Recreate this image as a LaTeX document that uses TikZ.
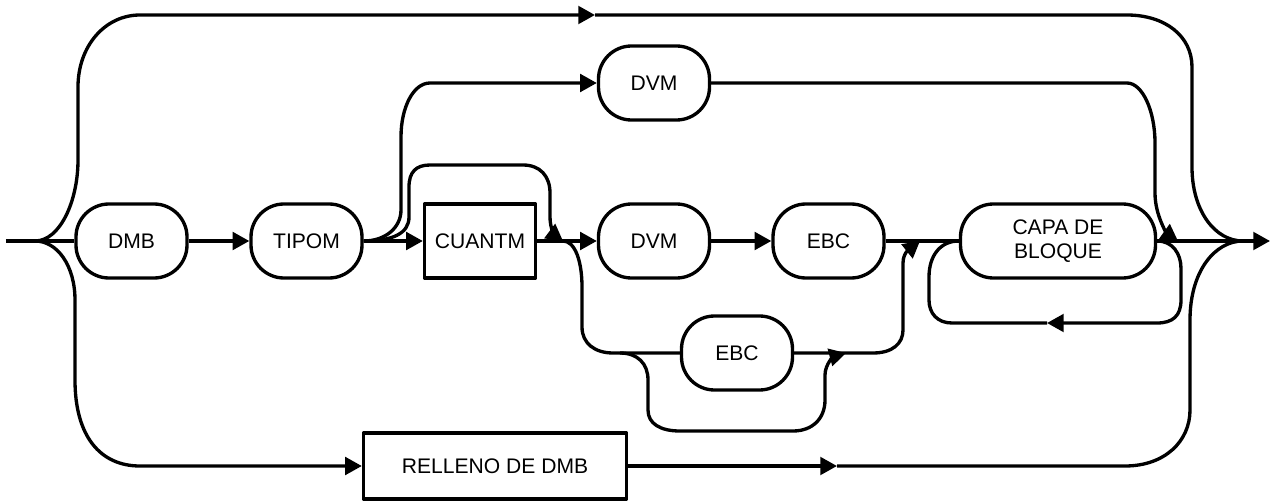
\documentclass[tikz,border=0pt]{standalone}
\usepackage{fontspec}
\setmainfont{Liberation Sans}
\usetikzlibrary{arrows.meta}

\tikzset{
    term/.style={draw, rounded corners=0.66cm, minimum width=2.22cm, minimum height=1.48cm, inner sep=0pt},
    nonterm/.style={draw, rectangle, minimum width=2.22cm, minimum height=1.48cm, inner sep=0pt},
    flow/.style={-{Triangle[length=9.5pt, width=10pt]}}
}

\begin{document}
\begin{tikzpicture}[line width=1.9pt, line join=round, font=\fontsize{12}{14}\selectfont]
            \useasboundingbox (0, 4.82) rectangle (25.6, -5.22);

            \node[term] (dmb) at (2.63, 0) {DMB};
            \node[term] (tipom) at (6.13, 0) {TIPOM};
            \node[nonterm] (cuantm) at (9.6, 0) {CUANTM};
            \node[term] (dvmtop) at (13.08, 3.16) {DVM};
            \node[term] (dvm) at (13.08, 0) {DVM};
            \node[term] (ebc) at (16.57, 0) {EBC};
            \node[term] (ebclow) at (14.74, -2.24) {EBC};
            \node[term, minimum width=3.9cm, align=center] (capa) at (21.16, 0) {CAPA DE\\BLOQUE};
            \node[nonterm, minimum width=5.26cm, minimum height=1.32cm] (relleno) at (9.9, -4.5) {RELLENO DE DMB};

            \coordinate (start) at (0.12, 0);
            \coordinate (fork) at (0.7, 0);
            \coordinate (join) at (24.86, 0);
            \coordinate (finish) at (25.4, 0);
            \coordinate (merge) at (11.26, 0);
            \coordinate (topmid) at (11.9, 4.52);
            \coordinate (botmid) at (16.74, -4.5);
            \coordinate (ebcfork) at (12.4, -2.24);
            \coordinate (ebcjoin) at (16.92, -2.24);
            \coordinate (lowjoin) at (18.4, 0);
            \coordinate (dvmjoin) at (23.56, 0);
            \coordinate (loopmid) at (20.94, -1.64);

            \draw (start) -- (dmb);
            \draw[flow] (dmb) -- (tipom);
            \draw[flow] (tipom) -- (cuantm);
            \draw[flow] (cuantm) -- (dvm);
            \draw[flow] (dvm) -- (ebc);
            \draw (ebc) -- (capa);
            \draw[flow] (capa) -- (finish);

            \draw[flow] (fork) .. controls (1.2, 0) and (1.56, 0.8) .. (1.56, 1.62) -- (1.56, 3.08) .. controls (1.56, 3.9) and (2.1, 4.52) .. (2.8, 4.52) -- (topmid);
            \draw (topmid) -- (22.54, 4.52) .. controls (23.3, 4.52) and (23.84, 4.1) .. (23.84, 3.48) -- (23.84, 1.48) .. controls (23.84, 0.6) and (24.3, 0) .. (join);

            \draw[flow] (fork) .. controls (1.15, 0) and (1.5, -0.5) .. (1.5, -1.18) -- (1.5, -2.78) .. controls (1.5, -3.9) and (2.0, -4.5) .. (2.8, -4.5) -- (relleno);
            \draw[flow] (relleno) -- (botmid);
            \draw (botmid) -- (22.5, -4.5) .. controls (23.3, -4.5) and (23.8, -4.0) .. (23.8, -3.38) -- (23.8, -1.58) .. controls (23.8, -0.6) and (24.3, 0) .. (join);

            \draw[flow] (tipom.east) .. controls (7.71, 0) and (8.02, 0.27) .. (8.02, 0.62) -- (8.02, 2.08) .. controls (8.02, 2.68) and (8.27, 3.16) .. (8.6, 3.16) -- (dvmtop);
            \draw[flow] (tipom.east) .. controls (7.85, 0) and (8.18, 0.15) .. (8.18, 0.48) -- (8.18, 1.08) .. controls (8.18, 1.38) and (8.32, 1.52) .. (8.6, 1.52) -- (10.46, 1.52) .. controls (10.8, 1.52) and (11.0, 1.3) .. (11.0, 0.96) -- (11.0, 0.48) .. controls (11.0, 0.25) and (11.1, 0.12) .. (merge);

            \draw (merge) .. controls (11.5, 0) and (11.64, -0.4) .. (11.64, -0.92) -- (11.64, -1.72) .. controls (11.64, -2.05) and (11.9, -2.24) .. (12.26, -2.24) -- (ebclow);
            \draw[flow] (ebclow) -- (17.46, -2.24) .. controls (17.85, -2.24) and (18.06, -2.05) .. (18.06, -1.78) -- (18.06, -0.44) .. controls (18.06, -0.2) and (18.25, -0.12) .. (lowjoin);
            \draw[flow] (ebcfork) .. controls (12.75, -2.24) and (12.96, -2.45) .. (12.96, -2.78) -- (12.96, -3.38) .. controls (12.96, -3.65) and (13.2, -3.8) .. (13.6, -3.8) -- (15.86, -3.8) .. controls (16.25, -3.8) and (16.5, -3.55) .. (16.5, -3.18) -- (16.5, -2.68) .. controls (16.5, -2.45) and (16.7, -2.3) .. (ebcjoin);

            \draw[flow] (capa.east) .. controls (23.45, 0) and (23.62, -0.25) .. (23.62, -0.55) -- (23.62, -1.18) .. controls (23.62, -1.5) and (23.45, -1.64) .. (23.14, -1.64) -- (loopmid);
            \draw (loopmid) -- (19.04, -1.64) .. controls (18.75, -1.64) and (18.58, -1.45) .. (18.58, -1.18) -- (18.58, -0.72) .. controls (18.58, -0.3) and (18.8, 0) .. (capa.west);

            \draw[flow] (dvmtop) -- (22.54, 3.16) .. controls (22.85, 3.16) and (23.1, 2.6) .. (23.1, 1.96) -- (23.1, 0.96) .. controls (23.1, 0.5) and (23.35, 0.15) .. (dvmjoin);
        \end{tikzpicture}
\end{document}
